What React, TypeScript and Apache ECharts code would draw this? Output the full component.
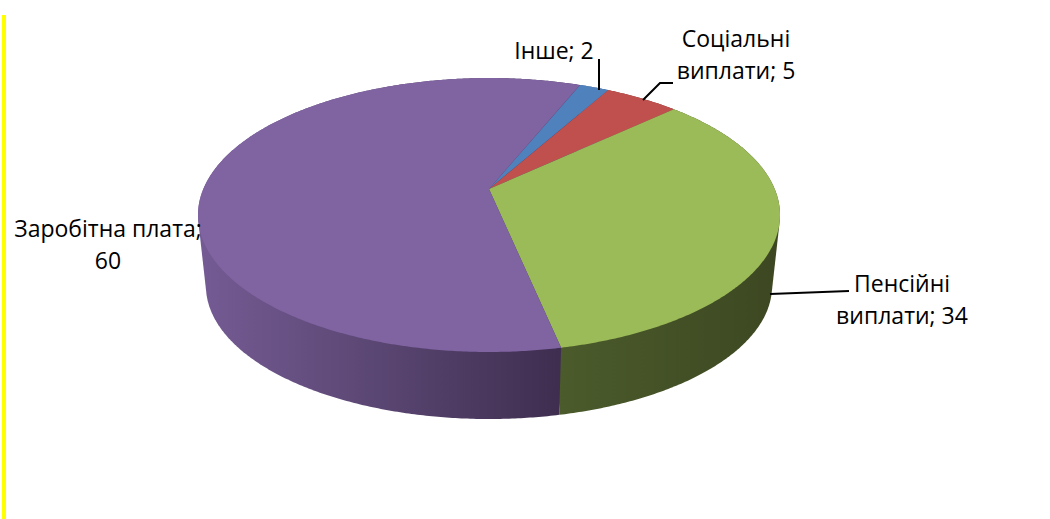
import React, { useEffect, useRef } from "react";
import * as echarts from "echarts";

const sliceNames = ["Інше", "Соціальні виплати", "Пенсійні виплати", "Заробітна плата"];
const sliceValues = [2, 5, 34, 60];
const topColors = ["#4f81bd", "#c0504d", "#9bbb59", "#8064a2"];
const labelLines = [
  ["Інше; " + sliceValues[0]],
  ["Соціальні", "виплати; " + sliceValues[1]],
  ["Пенсійні", "виплати; " + sliceValues[2]],
  ["Заробітна плата;", String(sliceValues[3])],
];
const labelCenters = [
  [554, 50],
  [736, 38],
  [902, 283],
  [108, 228],
];
const leaderLines = [
  [[599, 59], [599, 90]],
  [[643, 100], [660, 83], [673, 83]],
  [[770, 294], [849, 291]],
];
const FONT = '"Open Sans", sans-serif';
const FONT_SIZE = 23;
const LINE_GAP = 32;
const START_ANGLE = 22;

// Perspective projection of the pie's top and bottom discs.
const P = -0.19;
const TOP = { cx: 489, b: 285.7, c: 189, a: 96.1 };
const BOTTOM = { cx: 489, b: 277.9, c: 260.7, a: 78.7 };

function project(disc: typeof TOP, deg: number): number[] {
  const t = (deg * Math.PI) / 180;
  const x = Math.sin(t);
  const y = -Math.cos(t);
  const d = 1 + P * y;
  return [disc.cx + (disc.b * x) / d, (disc.a * y + disc.c) / d];
}

const total = sliceValues.reduce((s, v) => s + v, 0);
function sliceAngles(i: number): [number, number] {
  let acc = 0;
  for (let k = 0; k < i; k++) acc += sliceValues[k];
  return [
    START_ANGLE + (acc / total) * 360,
    START_ANGLE + ((acc + sliceValues[i]) / total) * 360,
  ];
}
function arc(disc: typeof TOP, a0: number, a1: number): number[][] {
  const pts: number[][] = [];
  const n = Math.max(2, Math.ceil((a1 - a0) * 2));
  for (let k = 0; k <= n; k++) pts.push(project(disc, a0 + ((a1 - a0) * k) / n));
  return pts;
}
function convexHull(input: number[][]): number[][] {
  const pts = [...input].sort((a, b) => a[0] - b[0] || a[1] - b[1]);
  const cross = (o: number[], a: number[], b: number[]) =>
    (a[0] - o[0]) * (b[1] - o[1]) - (a[1] - o[1]) * (b[0] - o[0]);
  const half = (list: number[][]) => {
    const h: number[][] = [];
    for (const p of list) {
      while (h.length >= 2 && cross(h[h.length - 2], h[h.length - 1], p) <= 0) h.pop();
      h.push(p);
    }
    h.pop();
    return h;
  };
  return [...half(pts), ...half([...pts].reverse())];
}

const wallFills: any[] = [
  "#3a5a82",
  "#7c3533",
  new echarts.graphic.LinearGradient(557, 0, 775, 0, [
    { offset: 0, color: "#4b5b2b" },
    { offset: 1, color: "#3d4822" },
  ], true),
  new echarts.graphic.LinearGradient(198, 0, 558, 0, [
    { offset: 0, color: "#755b94" },
    { offset: 0.5, color: "#5a4672" },
    { offset: 1, color: "#3f2e50" },
  ], true),
];
const wallOrder = [0, 1, 3, 2];

export default function App() {
  const ref = useRef<HTMLDivElement>(null);
  useEffect(() => {
    const chart = echarts.init(ref.current!, undefined, { renderer: "svg" });
    const labels: any[] = [];
    labelLines.forEach((lines, i) => {
      lines.forEach((line, j) => {
        labels.push({
          type: "text",
          x: labelCenters[i][0],
          y: labelCenters[i][1] + j * LINE_GAP,
          z: 10,
          style: {
            text: line,
            fill: "#000000",
            font: `${FONT_SIZE}px ${FONT}`,
            align: "center",
            verticalAlign: "middle",
          },
        });
      });
    });
    chart.setOption({
      animation: false,
      backgroundColor: "#ffffff",
      graphic: [
        { type: "rect", shape: { x: 2, y: 15, width: 4, height: 504 }, style: { fill: "#ffff00" } },
        ...leaderLines.map((points) => ({
          type: "polyline",
          z: 9,
          shape: { points },
          style: { stroke: "#000000", lineWidth: 2, fill: "none" },
        })),
        ...labels,
      ],
      series: [
        {
          type: "custom",
          coordinateSystem: "none",
          silent: true,
          z: 1,
          data: sliceValues,
          renderItem: (params: any) => {
            const [a0, a1] = sliceAngles(params.dataIndex);
            return {
              type: "polygon",
              z2: wallOrder[params.dataIndex],
              shape: { points: convexHull([...arc(TOP, a0, a1), ...arc(BOTTOM, a0, a1)]) },
              style: { fill: wallFills[params.dataIndex] },
            };
          },
        },
        {
          type: "custom",
          coordinateSystem: "none",
          silent: true,
          z: 2,
          data: sliceValues,
          renderItem: (params: any) => {
            const [a0, a1] = sliceAngles(params.dataIndex);
            const points = [[TOP.cx, TOP.c], ...arc(TOP, a0, a1)];
            return {
              type: "polygon",
              shape: { points },
              style: { fill: topColors[params.dataIndex] },
            };
          },
        },
      ],
    });
    return () => chart.dispose();
  }, []);
  return (
    <div
      ref={ref}
      style={{ position: "absolute", left: 0, top: 0, width: 1050, height: 519 }}
    />
  );
}
